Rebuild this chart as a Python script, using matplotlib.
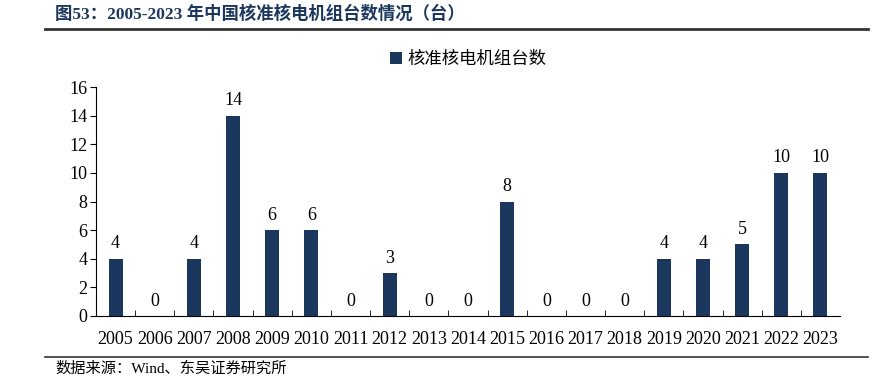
import matplotlib.pyplot as plt
from matplotlib.lines import Line2D

years = [str(y) for y in range(2005, 2024)]
units = [4, 0, 4, 14, 6, 6, 0, 3, 0, 0, 8, 0, 0, 0, 4, 4, 5, 10, 10]
series_name = '核准核电机组台数'
title = '图53：2005-2023 年中国核准核电机组台数情况（台）'
source = '数据来源：Wind、东吴证券研究所'

fonts = ['Liberation Serif', 'Noto Sans CJK SC', 'DejaVu Sans']
plt.rcParams['font.family'] = fonts
bar_color = '#1c375e'

fig = plt.figure(figsize=(8.77, 3.76), dpi=100)
ax = fig.add_axes([96/877, 1-316/376, (840-96)/877, (316-87)/376])

x = list(range(len(years)))
ax.bar(x, units, width=0.36, color=bar_color, label=series_name)
for xi, v in zip(x, units):
    ax.text(xi, v + 0.45, str(v), ha='center', va='bottom', fontsize=13)

ax.set_xlim(-0.5, len(years) - 0.5)
ax.set_ylim(0, 16)
ax.set_yticks(range(0, 17, 2))
ax.tick_params(axis='y', labelsize=13, length=4, direction='out', pad=2)
ax.set_xticks(x)
ax.set_xticklabels(years)
ax.tick_params(axis='x', labelsize=13, length=0, pad=11)
ax.set_xticks([i + 0.5 for i in x[:-1]], minor=True)
ax.tick_params(axis='x', which='minor', length=4, direction='in')
for s in ['top', 'right']:
    ax.spines[s].set_visible(False)

ax.legend(loc='upper center', bbox_to_anchor=(0.5, 1.22), frameon=False,
          fontsize=12.5, handlelength=0.7, handleheight=0.7, handletextpad=0.3)

fig.text(55/877, 1-14/376, title, fontsize=12.5, fontweight='bold', color=bar_color,
         va='center', ha='left')
fig.add_artist(Line2D([45/877, 868/877], [1-29/376, 1-29/376], color='#333333', lw=2))
fig.add_artist(Line2D([45/877, 868/877], [1-357/376, 1-357/376], color='#333333', lw=1.2))
fig.text(55/877, 1-369/376, source, fontsize=11, va='center', ha='left')

fig.savefig('out.png', dpi=100)
